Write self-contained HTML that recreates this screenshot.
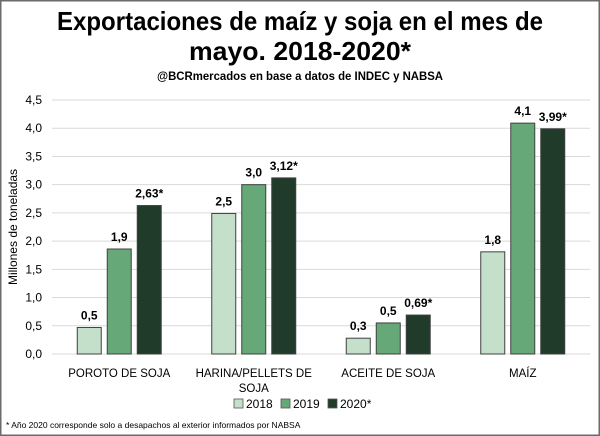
<!DOCTYPE html>
<html><head><meta charset="utf-8"><style>
body{margin:0;background:#fff}
svg{display:block;font-family:"Liberation Sans",sans-serif}
</style></head><body>
<svg id="chart" width="600" height="436" viewBox="0 0 600 436">
<rect x="0.5" y="0.5" width="599" height="435" fill="#fff" stroke="#6b6b6b" stroke-width="2"/>
<text x="300" y="30" text-anchor="middle" textLength="486" lengthAdjust="spacingAndGlyphs" font-weight="bold" font-size="26" fill="#000">Exportaciones de maíz y soja en el mes de</text>
<text x="300" y="60" text-anchor="middle" textLength="222" lengthAdjust="spacingAndGlyphs" font-weight="bold" font-size="26" fill="#000">mayo. 2018-2020*</text>
<text x="300" y="80" text-anchor="middle" textLength="286" lengthAdjust="spacingAndGlyphs" font-weight="bold" font-size="12" fill="#000">@BCRmercados en base a datos de INDEC y NABSA</text>
<text transform="translate(17,227) rotate(-90)" text-anchor="middle" font-size="12" fill="#000">Millones de toneladas</text>
<g id="grid"></g><g id="bars"></g><g id="labels"></g>
<g>
<rect x="234" y="399" width="9" height="9" fill="#c5e0ca" stroke="#555" stroke-width="0.8"/>
<text x="246" y="408" font-size="12">2018</text>
<rect x="281" y="399" width="9" height="9" fill="#66a877" stroke="#555" stroke-width="0.8"/>
<text x="293" y="408" font-size="12">2019</text>
<rect x="328" y="399" width="9" height="9" fill="#213b2a" stroke="#555" stroke-width="0.8"/>
<text x="340" y="408" font-size="12">2020*</text>
</g>
<text x="6" y="428" font-size="8.5" fill="#000">*  Año 2020  corresponde solo a desapachos al exterior informados por NABSA</text>
</svg>
<script>
const categories=["POROTO DE SOJA","HARINA/PELLETS DE|SOJA","ACEITE DE SOJA","MAÍZ"];
const v2018=[0.47,2.49,0.28,1.81];
const v2019=[1.86,3.0,0.55,4.09];
const v2020=[2.63,3.12,0.69,3.99];
const lab2018=["0,5","2,5","0,3","1,8"];
const lab2019=["1,9","3,0","0,5","4,1"];
const lab2020=["2,63*","3,12*","0,69*","3,99*"];
const yTicks=[0,0.5,1,1.5,2,2.5,3,3.5,4,4.5];
const yTickLabels=["0,0","0,5","1,0","1,5","2,0","2,5","3,0","3,5","4,0","4,5"];
const NS="http://www.w3.org/2000/svg";
const x0=52,x1=590,y0=354,y1=100,yMax=4.5;
const y=v=>y0-(v/yMax)*(y0-y1);
const band=(x1-x0)/categories.length;
const cx=i=>x0+band*(i+0.5);
function mk(tag,attrs,parent,txt){const e=document.createElementNS(NS,tag);for(const k in attrs)e.setAttribute(k,attrs[k]);if(txt!=null)e.textContent=txt;parent.appendChild(e);return e;}
const grid=document.getElementById('grid'),bars=document.getElementById('bars'),labels=document.getElementById('labels');
yTicks.forEach((t,i)=>{
 const l=mk('line',{x1:x0,x2:x1,y1:y(t),y2:y(t),stroke:'#d9d9d9','stroke-width':1},grid);
 
 
 const tx=mk('text',{x:42,y:y(t)+4,'text-anchor':'end','font-size':12,fill:'#000'},grid,yTickLabels[i]);
 
 
});
const series=[[v2018,lab2018,'#c5e0ca','2018'],[v2019,lab2019,'#66a877','2019'],[v2020,lab2020,'#213b2a','2020']];
const bw=24,step=30;
categories.forEach((c,i)=>{
 series.forEach((s,j)=>{
  const bx=cx(i)+(j-1)*step-bw/2;
  const r=mk('rect',{x:bx,y:y(s[0][i]),width:bw,height:y0-y(s[0][i]),fill:s[2],stroke:'#404040','stroke-width':1},bars);
  
  
  const t=mk('text',{x:bx+bw/2,y:y(s[0][i])-8,'text-anchor':'middle','font-size':12,'font-weight':'bold',fill:'#000'},labels,s[1][i]);
  
  
 });
 const parts=c.split('|');
 parts.forEach((p,k)=>{
  const t=mk('text',{x:cx(i),y:377+k*15,'text-anchor':'middle','font-size':11.5,fill:'#000'},labels,p);
  
  
 });
});
</script>
</body></html>
